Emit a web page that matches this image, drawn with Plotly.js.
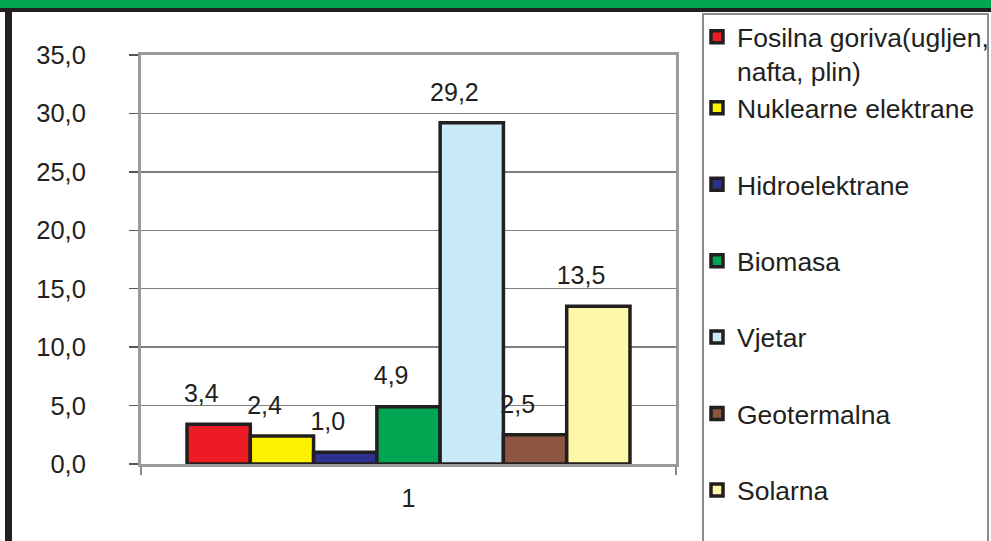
<!DOCTYPE html>
<html>
<head>
<meta charset="utf-8">
<script src="https://cdn.plot.ly/plotly-3.0.1.min.js"></script>
<style>
  html, body { margin: 0; padding: 0; background: #ffffff; }
  #wrap { position: relative; width: 991px; height: 541px; overflow: hidden; background: #ffffff; }
  #greenband { position: absolute; left: 0; top: 0; width: 991px; height: 8px; background: #00a651; }
  #topline { position: absolute; left: 0; top: 8px; width: 991px; height: 4px; background: #231f20; }
  #leftline { position: absolute; left: 5px; top: 8px; width: 7px; height: 540px; background: #231f20; }
  #legendbox { position: absolute; left: 702px; top: 13px; width: 287px; height: 600px; border: 2px solid #8c8c8c; box-sizing: border-box; }
  #chart { position: absolute; left: 0; top: 0; width: 991px; height: 541px; }
</style>
</head>
<body>
<div id="wrap">
  <div id="greenband"></div>
  <div id="topline"></div>
  <div id="leftline"></div>
  <div id="legendbox"></div>
  <div id="chart"></div>
</div>
<script>
// ---- data ----
const categories = ['1'];
const seriesNames = [
  'Fosilna goriva(ugljen,<br>nafta, plin)',
  'Nuklearne elektrane',
  'Hidroelektrane',
  'Biomasa',
  'Vjetar',
  'Geotermalna',
  'Solarna'
];
const seriesValues = [3.4, 2.4, 1.0, 4.9, 29.2, 2.5, 13.5];
const yTickVals = [0, 5, 10, 15, 20, 25, 30, 35];

// ---- styles ----
const seriesColors = ['#ed1c24', '#fff200', '#2e3192', '#00a651', '#c9eaf9', '#8c5640', '#fff7a8'];
const FONT = 'Liberation Sans, Arial, Helvetica, sans-serif';
const TXT = '#231f20';
const pad = '\u00a0\u00a0\u00a0\u00a0\u00a0';
const LEGFONT = 26.5;

const traces = [];
seriesNames.forEach((name, i) => {
  traces.push({
    type: 'bar',
    name: name,
    x: categories,
    y: [seriesValues[i]],
    marker: { color: seriesColors[i], line: { color: TXT, width: 3.5 } },
    legend: i === 0 ? 'legend' : 'legend2',
    legendgroup: 'g' + i,
    hoverinfo: 'skip'
  });
});
seriesNames.forEach((name, i) => {
  traces.push({
    type: 'scatter',
    mode: 'markers+text',
    orientation: 'v',
    x: categories,
    y: [seriesValues[i]],
    marker: { size: 24, color: 'rgba(0,0,0,0)' },
    texttemplate: '%{y:.1f}' + pad,
    textposition: 'top center',
    textfont: { family: FONT, size: 25, color: TXT },
    cliponaxis: false,
    showlegend: false,
    hoverinfo: 'skip'
  });
});

const layout = {
  width: 991,
  height: 541,
  margin: { l: 141, r: 315, t: 55, b: 77 },
  paper_bgcolor: 'rgba(0,0,0,0)',
  plot_bgcolor: '#ffffff',
  separators: ',.',
  font: { family: FONT, size: 25, color: TXT },
  barmode: 'group',
  bargap: 0.172,
  scattermode: 'group',
  scattergap: 0.172,
  showlegend: true,
  xaxis: {
    type: 'category',
    showline: true,
    mirror: true,
    linecolor: '#9a9a9a',
    linewidth: 3,
    ticks: 'outside',
    tickson: 'boundaries',
    ticklen: 8,
    tickwidth: 2,
    tickcolor: '#8a8a8a',
    ticklabelstandoff: 10,
    showgrid: false,
    layer: 'below traces',
    tickfont: { family: FONT, size: 25, color: TXT },
    fixedrange: true
  },
  yaxis: {
    range: [0, 35],
    tickvals: yTickVals,
    tickformat: '.1f',
    showline: true,
    mirror: true,
    linecolor: '#9a9a9a',
    linewidth: 3,
    ticks: 'outside',
    ticklen: 9,
    tickwidth: 1.5,
    tickcolor: '#555555',
    ticklabelstandoff: 38,
    showgrid: true,
    gridcolor: '#7f7f7f',
    gridwidth: 1.5,
    zeroline: false,
    layer: 'below traces',
    tickfont: { family: FONT, size: 25.5, color: TXT },
    fixedrange: true
  },
  legend: {
    xref: 'container', yref: 'container',
    x: 697 / 991, y: 1 - 13 / 541,
    xanchor: 'left', yanchor: 'top',
    bgcolor: 'rgba(0,0,0,0)',
    borderwidth: 0,
    valign: 'top',
    maxheight: 1000,
    font: { family: FONT, size: LEGFONT, color: TXT }
  },
  legend2: {
    xref: 'container', yref: 'container',
    x: 697 / 991, y: 1 - 84 / 541,
    xanchor: 'left', yanchor: 'top',
    bgcolor: 'rgba(0,0,0,0)',
    borderwidth: 0,
    valign: 'middle',
    traceorder: 'grouped',
    tracegroupgap: 39,
    maxheight: 1000,
    font: { family: FONT, size: LEGFONT, color: TXT }
  }
};

Plotly.newPlot('chart', traces, layout, { displayModeBar: false, staticPlot: true });
</script>
</body>
</html>
